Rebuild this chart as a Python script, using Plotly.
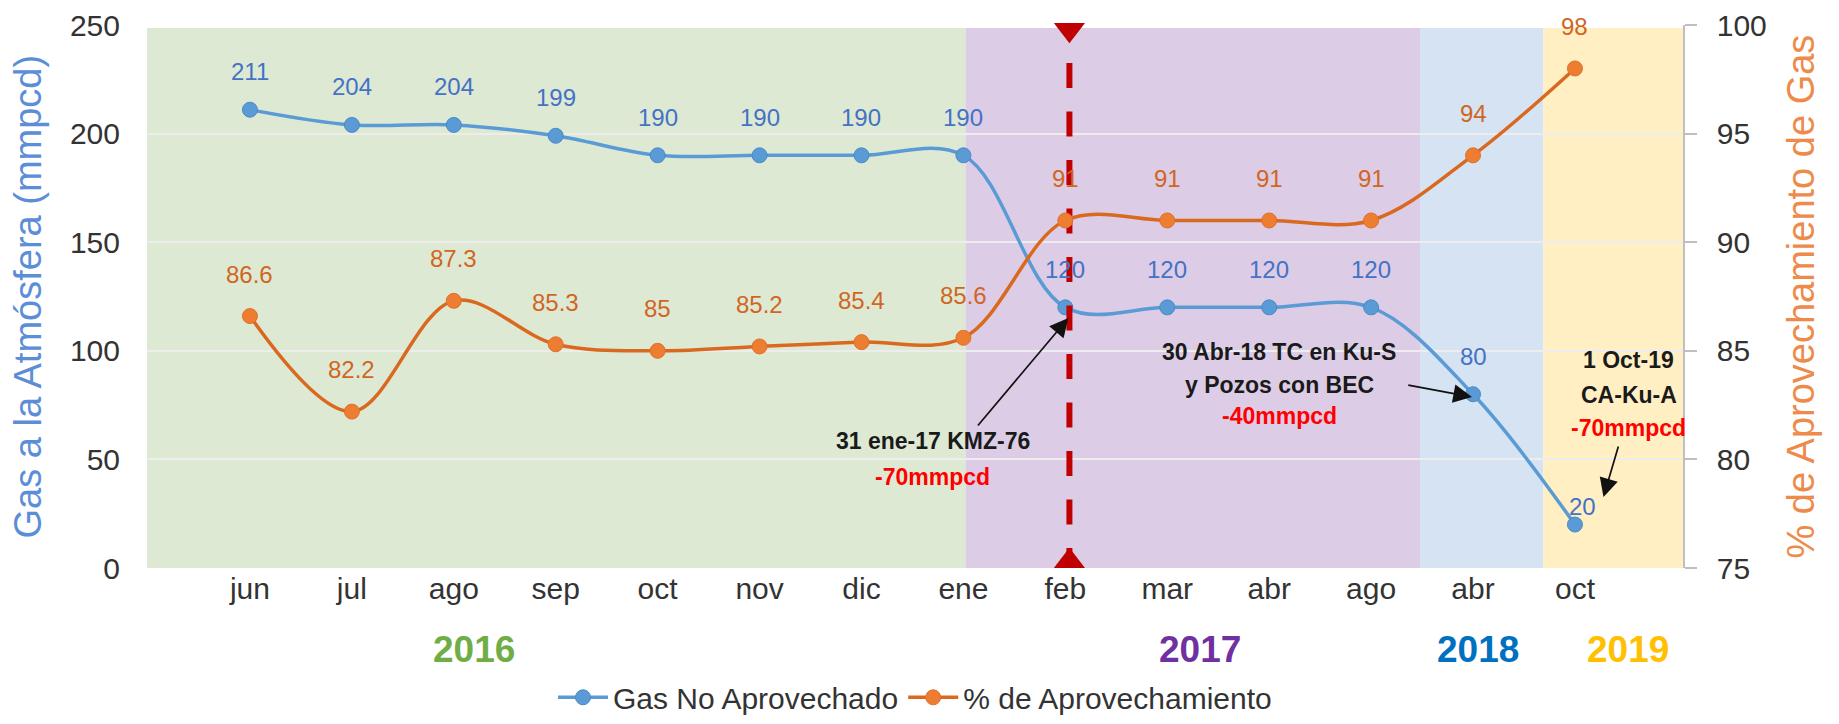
import plotly.graph_objects as go

# ---------------- data ----------------
months = ["jun", "jul", "ago", "sep", "oct", "nov", "dic", "ene", "feb", "mar", "abr", "ago", "abr", "oct"]
gas_no_aprov = [211, 204, 204, 199, 190, 190, 190, 190, 120, 120, 120, 120, 80, 20]
pct_aprov = [86.6, 82.2, 87.3, 85.3, 85, 85.2, 85.4, 85.6, 91, 91, 91, 91, 94, 98]

years = ["2016", "2017", "2018", "2019"]
year_colors = ["#70AD47", "#7030A0", "#0070C0", "#FFC000"]
year_label_pos = [2.2, 9.32, 12.05, 13.52]
band_edges = [-1.01, 7.02, 11.48, 12.69, 14.06]
band_colors = ["#DEE9D4", "#DCCCE6", "#D5E3F2", "#FFEFC3"]

event_pos = 8.04  # 31 ene-17 KMZ-76 event (between ene and feb)

x = list(range(len(months)))

FONT = "Liberation Sans, Arial, sans-serif"
BLUE = "#5B9BD5"
ORANGE = "#ED7D31"

fig = go.Figure()

fig.add_trace(go.Scatter(
    x=x, y=gas_no_aprov, name="Gas No Aprovechado", mode="lines+markers",
    line=dict(color=BLUE, width=3.5, shape="spline", smoothing=1),
    marker=dict(color=BLUE, size=15, line=dict(color="#4A89C8", width=1)),
    yaxis="y", hoverinfo="x+y"))

fig.add_trace(go.Scatter(
    x=x, y=pct_aprov, name="% de Aprovechamiento", mode="lines+markers",
    line=dict(color="#D9691F", width=3.5, shape="spline", smoothing=1),
    marker=dict(color=ORANGE, size=15, line=dict(color="#E0702A", width=1)),
    yaxis="y2", hoverinfo="x+y"))

# event line with triangles
fig.add_trace(go.Scatter(
    x=[event_pos, event_pos], y=[232.5, 0], mode="lines",
    line=dict(color="#C00000", width=6, dash="25px,23.5px"),
    showlegend=False, hoverinfo="skip", yaxis="y"))
fig.add_trace(go.Scatter(
    x=[event_pos, event_pos], y=[247.8, 3.1], mode="markers",
    marker=dict(color="#C00000", size=27, symbol=["triangle-down", "triangle-up"]),
    showlegend=False, hoverinfo="skip", yaxis="y", cliponaxis=False))

shapes = []
for i, c in enumerate(band_colors):
    shapes.append(dict(type="rect", xref="x", yref="y", x0=band_edges[i], x1=band_edges[i + 1],
                       y0=0, y1=248.6, fillcolor=c, line=dict(width=0), layer="below"))

annotations = []
# data labels
for xi, v in zip(x, gas_no_aprov):
    xs, ys = 0, 38
    if xi == len(x) - 1:
        xs, ys = 8, 18
    annotations.append(dict(x=xi, y=v, xref="x", yref="y", text=f"{v:g}", showarrow=False,
                            xshift=xs, yshift=ys, font=dict(family=FONT, size=24, color="#4472C4")))
for xi, v in zip(x, pct_aprov):
    annotations.append(dict(x=xi, y=v, xref="x", yref="y2", text=f"{v:g}", showarrow=False,
                            yshift=42, font=dict(family=FONT, size=24, color="#D0661F")))

# event notes
def note(xv, yv, txt, color="#1A1A1A"):
    annotations.append(dict(x=xv, y=yv, xref="x", yref="y", text=f"<b>{txt}</b>", showarrow=False,
                            font=dict(family=FONT, size=23, color=color)))

note(6.70, 58.5, "31 ene-17 KMZ-76")
note(6.70, 41.9, "-70mmpcd", "#FF0000")
note(10.10, 99.4, "30 Abr-18 TC en Ku-S")
note(10.10, 84.3, "y Pozos con BEC")
note(10.10, 70.0, "-40mmpcd", "#FF0000")
note(13.53, 95.8, "1 Oct-19")
note(13.53, 79.7, "CA-Ku-A")
note(13.53, 64.5, "-70mmpcd", "#FF0000")

def arrow(x0, y0, x1, y1):
    annotations.append(dict(x=x1, y=y1, ax=x0, ay=y0, xref="x", yref="y", axref="x", ayref="y",
                            text="", showarrow=True, arrowhead=2, arrowsize=2.2, arrowwidth=1.7,
                            arrowcolor="#111111"))

arrow(7.13, 64.9, 8.03, 115.1)
arrow(11.35, 84.3, 11.99, 78.7)
arrow(13.43, 56.6, 13.28, 32.7)

# year labels
for yr, col, xp in zip(years, year_colors, year_label_pos):
    annotations.append(dict(x=xp, y=-0.15, xref="x", yref="paper", text=f"<b>{yr}</b>", showarrow=False,
                            xanchor="center", yanchor="middle",
                            font=dict(family=FONT, size=37, color=col)))

# axis titles
annotations.append(dict(x=-0.0775, y=0.5, xref="paper", yref="paper", text="Gas a la Atmósfera (mmpcd)",
                        textangle=-90, showarrow=False, xanchor="center", yanchor="middle",
                        font=dict(family=FONT, size=38, color="#5B8ED6")))
annotations.append(dict(x=1.0762, y=0.5, xref="paper", yref="paper", text="% de Aprovechamiento de Gas",
                        textangle=-90, showarrow=False, xanchor="center", yanchor="middle",
                        font=dict(family=FONT, size=38, color="#EE8A4A")))

fig.update_layout(
    width=1839, height=724,
    margin=dict(l=147, r=156, t=25, b=156, autoexpand=False),
    paper_bgcolor="white", plot_bgcolor="white",
    font=dict(family=FONT, color="#333333"),
    shapes=shapes, annotations=annotations,
    xaxis=dict(range=[band_edges[0], band_edges[-1]], tickvals=x, ticktext=months,
               showgrid=False, zeroline=False, showline=False, ticks="",
               tickfont=dict(family=FONT, size=30, color="#333333")),
    yaxis=dict(range=[0, 250], dtick=50, showgrid=True, gridcolor="#EDEDED", gridwidth=2,
               zeroline=False, showline=False, ticks="", ticklabelstandoff=26,
               tickfont=dict(family=FONT, size=30, color="#333333")),
    yaxis2=dict(range=[75, 100], dtick=5, overlaying="y", side="right", showgrid=False,
                zeroline=False, showline=True, linecolor="#BFBFBF", linewidth=1.5,
                ticks="outside", ticklen=12, tickcolor="#BFBFBF", tickwidth=1.5,
                ticklabelstandoff=14,
                tickfont=dict(family=FONT, size=30, color="#333333")),
    legend=dict(orientation="h", x=0.5, xanchor="center", y=-0.286, yanchor="bottom",
                font=dict(family=FONT, size=30, color="#333333"), bgcolor="rgba(0,0,0,0)",
                itemwidth=50),
    showlegend=True,
)

fig.write_html("out.html", config={"displayModeBar": False},
               post_script="document.body.style.margin='0';document.body.style.overflow='hidden';")
